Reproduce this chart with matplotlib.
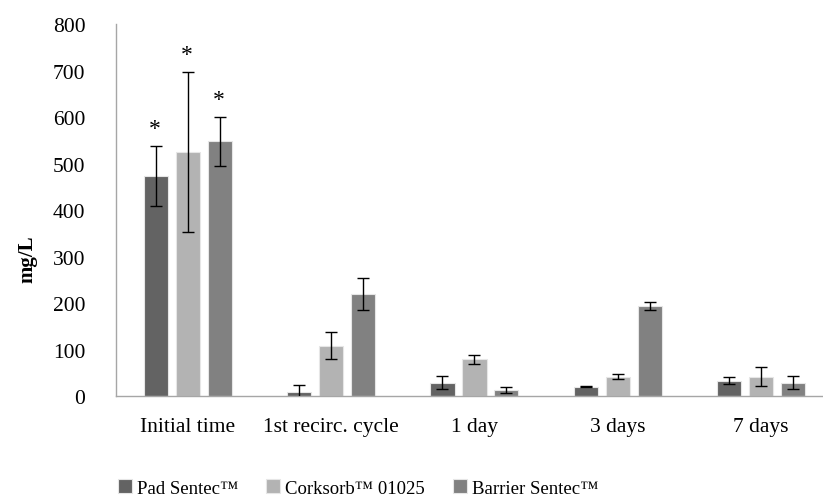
import matplotlib.pyplot as plt
import numpy as np

plt.rcParams['font.family'] = ['Liberation Serif', 'DejaVu Serif']

categories = ["Initial time", "1st recirc. cycle", "1 day", "3 days", "7 days"]
series_names = ["Pad Sentec\u2122", "Corksorb\u2122 01025", "Barrier Sentec\u2122"]

pad_vals = [473, 9, 29, 20, 33]
pad_err = [65, 14, 14, 1, 7]
cork_vals = [525, 108, 79, 42, 42]
cork_err = [172, 29, 10, 5, 21]
barrier_vals = [548, 219, 13, 194, 29]
barrier_err = [53, 34, 7, 8, 14]

# significance marks (one per bar, '' = none)
pad_marks = ["*", "", "", "", ""]
cork_marks = ["*", "", "", "", ""]
barrier_marks = ["*", "", "", "", ""]

colors = ["#636363", "#b3b3b3", "#818181"]

fig = plt.figure(figsize=(8.23, 5.02), dpi=100)
ax = fig.add_axes([0.141, 0.209, 0.871, 0.741])

x = np.arange(len(categories))
width = 0.168
step = 0.223
series = [(pad_vals, pad_err, pad_marks), (cork_vals, cork_err, cork_marks),
          (barrier_vals, barrier_err, barrier_marks)]

for i, (vals, errs, marks) in enumerate(series):
    pos = x + (i - 1) * step
    ax.bar(pos, vals, width, color=colors[i], edgecolor="#e6e6e6", linewidth=0.8,
           label=series_names[i], zorder=2)
    ax.errorbar(pos, vals, yerr=errs, fmt="none", ecolor="black", elinewidth=1,
                capsize=4.5, capthick=1, zorder=3)
    for p, v, e, m in zip(pos, vals, errs, marks):
        if m:
            ax.annotate(m, (p, v + e), xytext=(-1, 5), textcoords="offset points",
                        ha="center", va="bottom", fontsize=17)

ax.set_xlim(-0.5, len(categories) - 0.5)
ax.set_ylim(0, 800)
ax.set_yticks(range(0, 801, 100))
ax.set_xticks(x)
ax.set_xticklabels(categories, fontsize=15.5)
ax.tick_params(axis="y", labelsize=15.5, length=0, pad=22)
ax.tick_params(axis="x", length=0, pad=15)
ax.set_ylabel("mg/L", fontsize=15, fontweight="bold")
ax.yaxis.set_label_coords(-0.11, 0.37)

for side in ["top", "right"]:
    ax.spines[side].set_visible(False)
for side in ["left", "bottom"]:
    ax.spines[side].set_color("#a6a6a6")
    ax.spines[side].set_linewidth(1)

fig.legend(loc="center", bbox_to_anchor=(0.435, 0.026), ncol=3, frameon=False,
           fontsize=13.5, handlelength=0.75, handleheight=0.75, handletextpad=0.25,
           columnspacing=1.5)

fig.savefig("out.png", dpi=100)
